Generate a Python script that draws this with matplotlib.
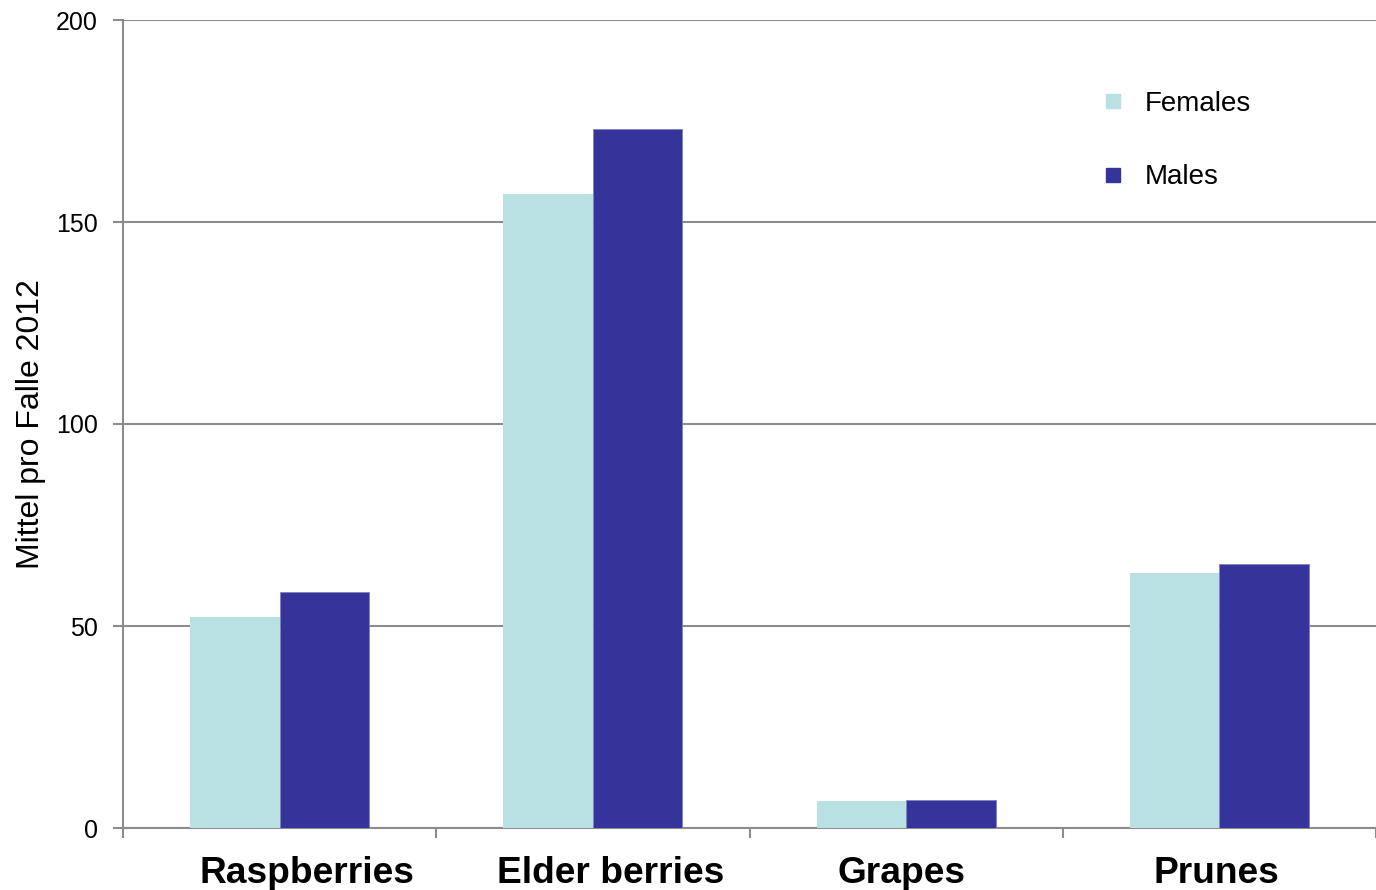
import numpy as np
import matplotlib
matplotlib.use('Agg')
from matplotlib import pyplot as plt
from matplotlib.lines import Line2D
import matplotlib.transforms as mtransforms

categories = ['Raspberries', 'Elder berries', 'Grapes', 'Prunes']
females = [52.2, 157.0, 6.7, 63.1]
males = [58.4, 173.0, 6.9, 65.3]
yticks = [0, 50, 100, 150, 200]

col_f = '#b9e0e3'
col_m = '#35349a'
grey = '#8c8c8c'

plt.rcParams['font.family'] = ['Liberation Sans', 'DejaVu Sans']

fig = plt.figure(figsize=(13.76, 8.9), dpi=100)
ax = fig.add_axes([123/1376, 1 - 828/890, 1 - 123/1376, (828 - 20)/890])

x = np.arange(len(categories))
w = 1 / 3.5
ax.bar(x - w/2, females, width=w, color=col_f, zorder=3)
ax.bar(x + w/2, males, width=w, color=col_m, edgecolor='#7f7fc4', linewidth=0.6, zorder=3)

ax.set_ylim(0, 200)
ax.set_xlim(-0.5, 3.5 - 4/314)
ax.set_yticks(yticks)
ax.tick_params(axis='y', labelsize=18, length=7, width=1.5, color=grey, pad=11)
ax.yaxis.grid(True, color=grey, linewidth=1.5, zorder=0)

ax.set_xticks(x)
ax.set_xticklabels(categories, fontsize=26.7, fontweight='bold')
ax.set_xticks(np.arange(-0.5, 4, 1), minor=True)
ax.tick_params(axis='x', which='major', length=0, pad=20.5)
ax.tick_params(axis='x', which='minor', length=7, width=1.5, color=grey)

# labels in the original sit a little off the group centres
shifts = [27, 18, -5, -3]
for lab, dx in zip(ax.get_xticklabels(), shifts):
    lab.set_transform(lab.get_transform() + mtransforms.ScaledTranslation(dx/100, 0, fig.dpi_scale_trans))

for s in ['top', 'right']:
    ax.spines[s].set_visible(False)
for s in ['left', 'bottom']:
    ax.spines[s].set_color(grey)
    ax.spines[s].set_linewidth(1.5)

ax.set_ylabel('Mittel pro Falle 2012', fontsize=23, labelpad=7)

handles = [Line2D([], [], marker='s', linestyle='none', markersize=9.5, color=col_f),
           Line2D([], [], marker='s', linestyle='none', markersize=9.5, color=col_m)]
ax.legend(handles, ['Females', 'Males'], loc='upper left', bbox_to_anchor=(1088/1376, 1 - 80/890),
          bbox_transform=fig.transFigure, frameon=False, fontsize=20, labelspacing=1.7,
          handletextpad=0.65, handlelength=1.0, borderaxespad=0)

fig.savefig('out.png', dpi=100)
